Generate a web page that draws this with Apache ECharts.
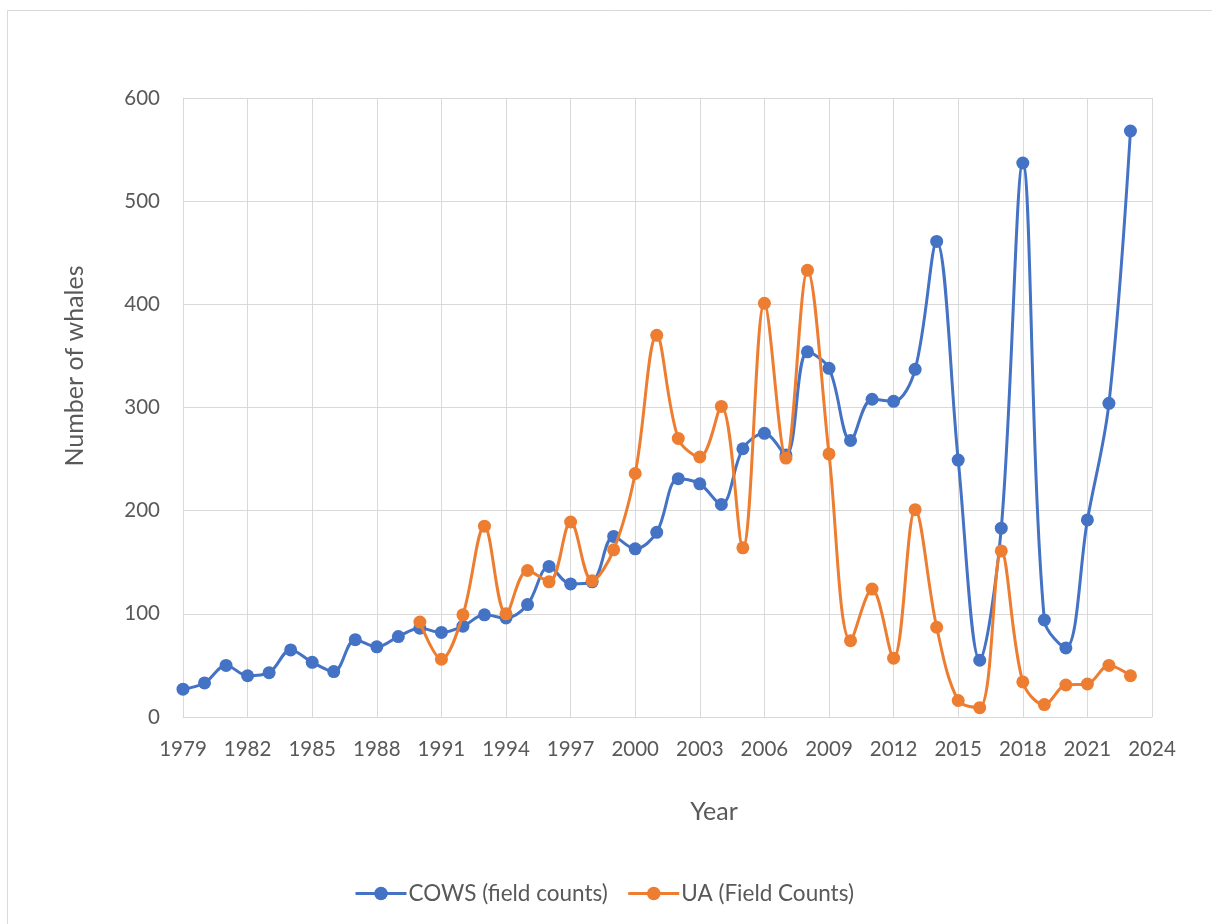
<!DOCTYPE html>
<html>
<head>
<meta charset="utf-8">
<title>Number of whales by year</title>
<script src="https://cdn.jsdelivr.net/npm/echarts@6/dist/echarts.min.js"></script>
<style>
  html, body { margin: 0; padding: 0; background: #ffffff; overflow: hidden; }
  #chart { width: 1212px; height: 924px; }
</style>
</head>
<body>
<div id="chart"></div>
<script>
// Survey years shown on the x axis
const years = [];
for (let y = 1979; y <= 2024; y++) years.push(String(y));

// COWS field counts, 1979–2023
const cowsStartYear = 1979;
const cowsCounts = [
  27, 33, 50, 40, 43, 65, 53, 44, 75, 68,
  78, 86, 82, 88, 99, 96, 109, 146, 129, 131,
  175, 163, 179, 231, 226, 206, 260, 275, 254, 354,
  338, 268, 308, 306, 337, 461, 249, 55, 183, 537,
  94, 67, 191, 304, 568
];

// UA field counts, 1990–2023
const uaStartYear = 1990;
const uaCounts = [
  92, 56, 99, 185, 100, 142, 131, 189, 132, 162,
  236, 370, 270, 252, 301, 164, 401, 251, 433, 255,
  74, 124, 57, 201, 87, 16, 9, 161, 34, 12,
  31, 32, 50, 40
];

// Y axis range
const yMin = 0, yMax = 600, yStep = 100;

// Align a series that starts at a given year with the category list
function alignToYears(startYear, values) {
  const offset = startYear - Number(years[0]);
  const out = new Array(offset).fill(null);
  return out.concat(values);
}

const textColor = '#595959';
const gridColor = '#d9d9d9';
const fontFamily = 'Lato, "Open Sans", sans-serif';

const chart = echarts.init(document.getElementById('chart'), null, { renderer: 'canvas' });

chart.setOption({
  animation: false,
  backgroundColor: '#ffffff',
  textStyle: { fontFamily: fontFamily, color: textColor },
  grid: { left: 183, right: 60, top: 98, bottom: 207, containLabel: false },
  xAxis: {
    type: 'category',
    data: years,
    boundaryGap: false,
    axisLine: { show: true, lineStyle: { color: gridColor, width: 1 } },
    axisTick: { show: false },
    axisLabel: { interval: 2, color: textColor, fontSize: 20.5, margin: 22, fontFamily: fontFamily },
    splitLine: { show: true, interval: 2, lineStyle: { color: gridColor, width: 1 } }
  },
  yAxis: {
    type: 'value',
    min: yMin,
    max: yMax,
    interval: yStep,
    axisLine: { show: true, lineStyle: { color: gridColor, width: 1 } },
    axisTick: { show: false },
    axisLabel: { color: textColor, fontSize: 20.5, margin: 23, fontFamily: fontFamily },
    splitLine: { show: true, lineStyle: { color: gridColor, width: 1 } }
  },
  legend: {
    left: 349,
    top: 877,
    itemWidth: 51,
    itemHeight: 17,
    itemGap: 19,
    lineStyle: { width: 3 },
    textStyle: { color: textColor, fontSize: 22.5, fontFamily: fontFamily, padding: [0, 0, 0, -3] },
    data: ['COWS (field counts)', 'UA (Field Counts)']
  },
  graphic: [
    {
      // outer chart frame
      type: 'rect',
      silent: true,
      z: -10,
      shape: { x: 7.5, y: 10.5, width: 1260, height: 960 },
      style: { fill: null, stroke: gridColor, lineWidth: 1 }
    },
    {
      type: 'text',
      x: 75,
      y: 366,
      rotation: Math.PI / 2,
      style: {
        text: 'Number of whales',
        fill: textColor,
        font: '25px ' + fontFamily,
        align: 'center',
        verticalAlign: 'middle'
      }
    },
    {
      type: 'text',
      x: 714,
      y: 812,
      style: {
        text: 'Year',
        fill: textColor,
        font: '25px ' + fontFamily,
        align: 'center',
        verticalAlign: 'middle'
      }
    }
  ],
  series: [
    {
      name: 'COWS (field counts)',
      type: 'line',
      data: alignToYears(cowsStartYear, cowsCounts),
      smooth: 0.35,
      symbol: 'circle',
      symbolSize: 13,
      color: '#4472C4',
      lineStyle: { width: 3, color: '#4472C4' },
      itemStyle: { color: '#4472C4' },
      z: 2
    },
    {
      name: 'UA (Field Counts)',
      type: 'line',
      data: alignToYears(uaStartYear, uaCounts),
      smooth: 0.35,
      symbol: 'circle',
      symbolSize: 13,
      color: '#ED7D31',
      lineStyle: { width: 3, color: '#ED7D31' },
      itemStyle: { color: '#ED7D31' },
      z: 3
    }
  ]
});
</script>
</body>
</html>
